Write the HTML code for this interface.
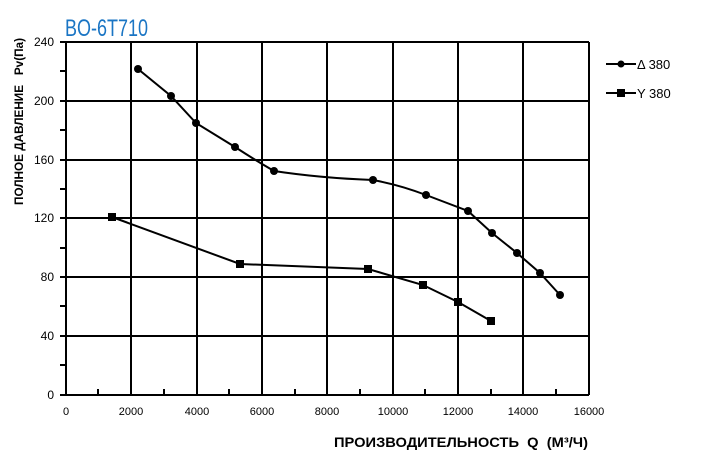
<!DOCTYPE html>
<html><head><meta charset="utf-8"><style>
body{margin:0;background:#fff;width:707px;height:460px;overflow:hidden}
svg{display:block}
</style></head><body>
<svg width="707" height="460" xmlns="http://www.w3.org/2000/svg" font-family="Liberation Sans, sans-serif">
<text x="65" y="36" font-size="24" fill="#1a75c4" textLength="83" lengthAdjust="spacingAndGlyphs" font-family="Liberation Sans Narrow, Liberation Sans, sans-serif">BO-6T710</text>
<g stroke="#000" stroke-width="2" fill="none">
<path d="M66 42H589M66 101H589M66 160H589M66 218H589M66 277H589M66 336H589M66 395H589"/>
<path d="M66 42V395M131 42V395M197 42V395M262 42V395M327 42V395M393 42V395M458 42V395M523 42V395M589 42V395"/>
<path d="M60 42H66M60 71H66M60 101H66M60 130H66M60 160H66M60 189H66M60 218H66M60 248H66M60 277H66M60 306H66M60 336H66M60 365H66M60 395H66"/>
<path d="M98 389V395M164 389V395M229 389V395M295 389V395M360 389V395M425 389V395M491 389V395M556 389V395"/>
</g>
<g font-size="12" fill="#000" text-anchor="end">
<text x="54" y="46">240</text><text x="54" y="105">200</text><text x="54" y="164">160</text><text x="54" y="222">120</text><text x="54" y="281">80</text><text x="54" y="340">40</text><text x="54" y="399">0</text>
</g>
<g font-size="11" fill="#000" text-anchor="middle">
<text x="66" y="415">0</text><text x="131" y="415">2000</text><text x="197" y="415">4000</text><text x="262" y="415">6000</text><text x="327" y="415">8000</text><text x="393" y="415">10000</text><text x="458" y="415">12000</text><text x="523" y="415">14000</text><text x="589" y="415">16000</text>
</g>
<text x="334" y="447" font-size="14" font-weight="bold" textLength="254" lengthAdjust="spacingAndGlyphs" xml:space="preserve">ПРОИЗВОДИТЕЛЬНОСТЬ  Q  (М³/Ч)</text>
<text transform="translate(23,205) rotate(-90)" font-size="11.5" font-weight="bold" textLength="167" lengthAdjust="spacingAndGlyphs" xml:space="preserve">ПОЛНОЕ ДАВЛЕНИЕ   Pv(Па)</text>
<g stroke="#000" stroke-width="2" fill="none">
<path d="M138 69L171 96L196 123L235 147Q255 160 274 171Q320 178 373 180Q400 185 426 195L468 211L492 233L517 253L540 273L560 295"/>
<path d="M112 217L240 264L368 269L423 285L458 302L491 321"/>
<path d="M606 64H636M606 93H636"/>
</g>
<g fill="#000">
<circle cx="138" cy="69" r="4"/><circle cx="171" cy="96" r="4"/><circle cx="196" cy="123" r="4"/><circle cx="235" cy="147" r="4"/><circle cx="274" cy="171" r="4"/><circle cx="373" cy="180" r="4"/><circle cx="426" cy="195" r="4"/><circle cx="468" cy="211" r="4"/><circle cx="492" cy="233" r="4"/><circle cx="517" cy="253" r="4"/><circle cx="540" cy="273" r="4"/><circle cx="560" cy="295" r="4"/>
<rect x="108" y="213" width="8" height="8"/><rect x="236" y="260" width="8" height="8"/><rect x="364" y="265" width="8" height="8"/><rect x="419" y="281" width="8" height="8"/><rect x="454" y="298" width="8" height="8"/><rect x="487" y="317" width="8" height="8"/>
<circle cx="621" cy="64" r="3.5"/><rect x="617" y="89" width="8" height="8"/>
</g>
<g font-size="13" fill="#000"><text x="637" y="69">Δ 380</text><text x="637" y="98">Y 380</text></g>
</svg>
</body></html>
